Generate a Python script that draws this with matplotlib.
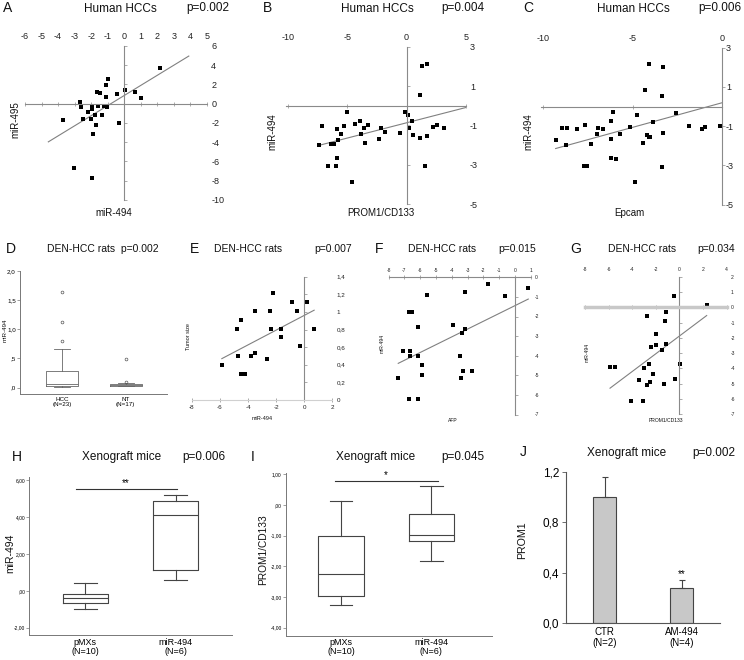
import numpy as np
import matplotlib
matplotlib.use("Agg")
import matplotlib.pyplot as plt

plt.rcParams['font.family'] = ['Liberation Sans', 'DejaVu Sans']
plt.rcParams['axes.unicode_minus'] = False

W, H = 744, 660

# ---------------- data ----------------
# A: Human HCCs, miR-494 (x) vs miR-495 (y)
a_x = [2.14, -1.0, -1.13, -1.62, -1.47, -1.09, -0.46, 0.06, 0.67, 0.99, -2.69, -2.59, -2.22, -1.98,
       -1.96, -1.58, -1.23, -1.05, -1.33, -1.76, -2.02, -1.68, -0.30, -2.51, -3.68, -1.88, -3.05, -1.96]
a_y = [3.70, 2.56, 1.90, 1.25, 1.14, 0.69, 1.0, 1.45, 1.18, 0.62, 0.17, -0.38, -0.87, -0.21,
       -0.55, -0.24, -0.24, -0.38, -1.21, -1.21, -1.59, -2.18, -1.97, -1.63, -1.73, -3.18, -6.64, -7.72]
a_fit = (1.05, 0.86, -4.59, 3.9)   # slope, intercept, x from, x to

# B: Human HCCs, PROM1/CD133 (x) vs miR-494 (y)
b_x = [1.30, 1.72, 1.16, -5.06, -0.17, 0.11, 0.45, -3.90, -4.35, -3.62, -3.28, -2.20, -1.86, -7.12,
       -5.85, -5.31, -5.54, -5.79, -6.38, -6.16, -7.40, -3.81, -3.50, -2.29, -0.56, 0.20, 0.56, 1.10,
       1.75, 2.23, 2.57, 3.16, -5.88, -5.96, -6.61, 1.55, -4.60]
b_y = [2.03, 2.14, 0.53, -0.31, -0.32, -0.46, -0.80, -0.76, -0.93, -1.14, -1.00, -1.14, -1.32, -1.03,
       -1.17, -1.05, -1.42, -1.75, -1.93, -1.97, -2.02, -1.42, -1.88, -1.68, -1.39, -1.14, -1.51, -1.63,
       -1.54, -1.10, -1.00, -1.15, -2.68, -3.05, -3.07, -3.08, -3.86]
b_fit = (0.155, -0.87, -7.4, 5.0)

# C: Human HCCs, Epcam (x) vs miR-494 (y)
c_x = [-4.09, -3.29, -4.30, -3.35, -6.09, -4.77, -2.58, -6.21, -3.83, -5.16, -7.68, -8.09, -8.97,
       -8.65, -6.92, -6.65, -6.99, -6.19, -5.68, -4.17, -4.09, -4.00, -3.29, -4.43, -1.85, -1.08,
       -0.93, -0.09, -9.31, -8.71, -7.31, -7.72, -7.57, -6.19, -5.93, -3.36, -4.88]
c_y = [2.15, 2.03, 0.86, 0.56, -0.29, -0.44, -0.32, -0.76, -0.80, -1.03, -0.92, -1.14, -1.10,
       -1.10, -1.10, -1.14, -1.41, -1.66, -1.41, -1.46, -1.56, -1.53, -1.37, -1.85, -0.97, -1.12,
       -1.05, -0.98, -1.71, -1.95, -1.92, -3.03, -3.02, -2.64, -2.69, -3.07, -3.83]
c_fit = (0.25, 0.19, -9.31, 0.0)

# D: DEN-HCC rats, miR-494 boxplots
d_cats = ['HCC\n(N=23)', 'NT\n(N=17)']
d_stats = [
    dict(med=0.065, q1=0.025, q3=0.29, whislo=0.01, whishi=0.67, fliers=[0.80, 1.12, 1.64]),
    dict(med=0.045, q1=0.035, q3=0.06, whislo=0.02, whishi=0.08, fliers=[0.10, 0.49]),
]

# E: DEN-HCC rats, miR-494 (x) vs tumor size (y)
e_x = [-2.25, -0.87, 0.17, -3.52, -2.46, -0.51, -4.51, -4.81, -2.39, -1.64, 0.70, -1.64, -0.28,
       -4.72, -3.52, -3.77, -2.65, -5.87, -4.48, -4.20]
e_y = [1.21, 1.11, 1.11, 1.01, 1.01, 1.01, 0.91, 0.81, 0.81, 0.81, 0.81, 0.71, 0.61,
       0.50, 0.53, 0.50, 0.46, 0.40, 0.30, 0.30]
e_fit = (0.0837, 0.961, -5.87, 0.70)

# F: DEN-HCC rats, AFP (x) vs miR-494 (y)
f_x = [-1.69, 0.82, -3.16, -0.63, -5.59, -6.69, -6.49, -6.12, -3.94, -3.16, -3.37, -7.11, -6.62,
       -6.62, -6.16, -3.48, -5.87, -7.41, -5.91, -3.27, -2.70, -3.40, -6.69, -6.12]
f_y = [-0.34, -0.56, -0.73, -0.97, -0.92, -1.79, -1.79, -2.55, -2.45, -2.65, -2.84, -3.76, -3.76,
       -4.03, -4.00, -4.00, -4.47, -5.12, -4.98, -4.80, -4.80, -5.15, -6.21, -6.21]
f_fit = (0.3985, -1.445, -7.39, 0.84)

# G: DEN-HCC rats, PROM1/CD133 (x) vs miR-494 (y)
g_x = [2.37, -0.42, -1.10, -2.76, -1.24, -1.95, -2.37, -2.0, -1.15, -1.44, 0.06, -2.59, -2.97,
       -5.87, -5.45, -2.25, -3.41, -2.46, -2.71, -1.32, -0.34, -4.07, -3.05]
g_y = [0.18, 0.74, -0.31, -0.54, -0.92, -1.72, -2.59, -2.48, -2.42, -2.77, -3.70, -3.70, -3.94,
       -3.92, -3.92, -4.38, -4.73, -4.90, -5.08, -5.05, -4.71, -6.14, -6.14]
g_fit = (0.58, -1.886, -5.87, 2.32)

# H: Xenograft mice, miR-494 boxplots
h_cats = ['pMXs\n(N=10)', 'miR-494\n(N=6)']
h_stats = [
    dict(med=-0.41, q1=-0.68, q3=-0.19, whislo=-1.01, whishi=0.43, fliers=[]),
    dict(med=4.12, q1=1.12, q3=4.89, whislo=0.58, whishi=5.21, fliers=[]),
]

# I: Xenograft mice, PROM1/CD133 boxplots
i_cats = ['pMXs\n(N=10)', 'miR-494\n(N=6)']
i_stats = [
    dict(med=-2.25, q1=-2.98, q3=-1.01, whislo=-3.26, whishi=0.14, fliers=[]),
    dict(med=-0.97, q1=-1.18, q3=-0.30, whislo=-1.84, whishi=0.62, fliers=[]),
]

# J: Xenograft mice, PROM1 bars
j_cats = ['CTR\n(N=2)', 'AM-494\n(N=4)']
j_vals = [1.0, 0.28]
j_err = [0.16, 0.06]

AXC = '#8a8a8a'
LINEC = '#808080'

fig = plt.figure(figsize=(W / 100, H / 100), dpi=100)
fig.patch.set_facecolor('white')


def add_ax(x0, y0, x1, y1):
    return fig.add_axes([x0 / W, 1 - y1 / H, (x1 - x0) / W, (y1 - y0) / H])


def txt(x, y, s, fs, ha='center', rot=0, **kw):
    fig.text(x / W, 1 - y / H, s, fontsize=fs, ha=ha, va='center', rotation=rot, color='#111', **kw)


def fmt(v):
    s = ('%g' % v)
    return s.replace('.', ',')


def cross_panel(rect, xlim, ylim, xticks, yticks, xside, tfs, ms, fit, xs, ys,
                hline_w=0.8, hline_c=AXC, ylabels=None):
    ax = add_ax(*rect)
    ax.set_xlim(xlim)
    ax.set_ylim(ylim)
    ax.patch.set_alpha(0)
    ax.spines['top'].set_visible(False)
    ax.spines['right'].set_visible(False)
    ax.spines['left'].set_position(('data', 0))
    ax.spines['bottom'].set_position(('data', 0))
    ax.spines['left'].set_color(AXC)
    ax.spines['left'].set_linewidth(0.8)
    ax.spines['bottom'].set_color(hline_c)
    ax.spines['bottom'].set_linewidth(hline_w)
    ax.set_xticks(xticks)
    ax.set_yticks(yticks)
    ax.set_xticklabels([fmt(v) for v in xticks])
    ax.set_yticklabels(ylabels if ylabels else [fmt(v) for v in yticks])
    ax.tick_params(axis='x', bottom=True, top=False, labelbottom=(xside == 'bottom'),
                   labeltop=(xside == 'top'), direction='inout', length=2.5, width=0.5,
                   color=AXC, labelsize=tfs, labelcolor='#222', pad=2)
    ax.tick_params(axis='y', left=True, right=False, labelleft=False, labelright=True,
                   direction='in', length=2.5, width=0.5, color=AXC, labelsize=tfs,
                   labelcolor='#222', pad=3)
    slope, icpt, x0, x1 = fit
    fx = np.array([x0, x1])
    ax.plot(fx, slope * fx + icpt, color=LINEC, lw=0.8)
    ax.plot(xs, ys, 's', color='k', ms=ms, mew=0, clip_on=False)
    return ax


def box_panel(rect, stats, xlim, ylim, yticks, ylabels, cats, tfs, cfs, col, lw):
    ax = add_ax(*rect)
    ax.bxp(stats, positions=[1, 2], widths=0.5, showfliers=True,
           boxprops=dict(color=col, lw=lw), whiskerprops=dict(color=col, lw=lw),
           capprops=dict(color=col, lw=lw), medianprops=dict(color=col, lw=lw),
           flierprops=dict(marker='o', mfc='none', mec='#555', ms=2, mew=0.5))
    ax.set_xlim(xlim)
    ax.set_ylim(ylim)
    ax.spines['top'].set_visible(False)
    ax.spines['right'].set_visible(False)
    for s in ('left', 'bottom'):
        ax.spines[s].set_color('#777')
        ax.spines[s].set_linewidth(0.7)
    ax.set_yticks(yticks)
    ax.set_yticklabels(ylabels)
    ax.set_xticks([1, 2])
    ax.set_xticklabels(cats, fontsize=cfs, linespacing=1.0)
    ax.tick_params(axis='y', length=2, width=0.5, color='#777', labelsize=tfs, pad=1)
    ax.tick_params(axis='x', length=0, pad=2)
    return ax


# ---------------- row 1 ----------------
cross_panel((25, 46, 207, 200), (-6, 5), (-10, 6), list(range(-6, 6)), list(range(-10, 7, 2)),
            'top', 6.5, 3.4, a_fit, a_x, a_y)
cross_panel((285.9, 46.7, 465.7, 204), (-10.2, 5), (-5, 3), [-10, -5, 0, 5], [-5, -3, -1, 1, 3],
            'top', 6.5, 3.4, b_fit, b_x, b_y)
cross_panel((541, 47.7, 721.7, 204.7), (-10.13, 0), (-5, 3), [-10, -5, 0], [-5, -3, -1, 1, 3],
            'top', 6.5, 3.4, c_fit, c_x, c_y)

for letter, lx, cx, px_, p in [('A', 3, 120, 208, 'p=0.002'), ('B', 263, 377, 463, 'p=0.004'),
                               ('C', 523, 633, 720, 'p=0.006')]:
    txt(lx, 8.5, letter, 10, ha='left')
    txt(cx, 8.5, 'Human HCCs', 8.5)
    txt(px_, 8.5, p, 8.5)
txt(15, 120, 'miR-495', 7, rot=90)
txt(114, 213, 'miR-494', 7)
txt(272, 132, 'miR-494', 7, rot=90)
txt(381, 213, 'PROM1/CD133', 7)
txt(528, 132, 'miR-494', 7, rot=90)
txt(629, 213, 'Epcam', 7)

# ---------------- row 2 ----------------
box_panel((20, 271, 167, 394), d_stats, (0.34, 2.65), (-0.11, 2.0), [0, 0.5, 1.0, 1.5, 2.0],
          [',0', ',5', '1,0', '1,5', '2,0'], d_cats, 4.5, 4.5, '#666', 0.6)
txt(6, 249, 'D', 10, ha='left')
txt(103, 249, 'DEN-HCC rats  p=0.002', 7.5)
txt(5, 330, 'miR-494', 4.5, rot=90)

e_yt = [0, 0.2, 0.4, 0.6, 0.8, 1.0, 1.2, 1.4]
cross_panel((191.9, 276.7, 332.4, 400), (-8, 2), (0, 1.4), [-8, -6, -4, -2, 0, 2], e_yt,
            'bottom', 4.5, 2.3, e_fit, e_x, e_y, hline_c='#d0d0d0')
txt(190, 249, 'E', 10, ha='left')
txt(248, 249, 'DEN-HCC rats', 7.5)
txt(333, 249, 'p=0.007', 7.5)
txt(188, 337, 'Tumor size', 4, rot=90)
txt(262, 418, 'miR-494', 4)

cross_panel((388.6, 277.3, 530.8, 414.5), (-8, 1), (-7, 0), list(range(-8, 2)), list(range(-7, 1)),
            'top', 3.6, 2.3, f_fit, f_x, f_y)
txt(375, 249, 'F', 10, ha='left')
txt(442, 249, 'DEN-HCC rats', 7.5)
txt(517, 249, 'p=0.015', 7.5)
txt(382, 343, 'miR-494', 3.6, rot=90)
txt(453, 420, 'AFP', 3.6)

cross_panel((584.9, 276.7, 726.5, 414.3), (-8, 4), (-7, 2), list(range(-8, 5, 2)), list(range(-7, 3)),
            'top', 3.6, 2.3, g_fit, g_x, g_y, hline_w=2.5, hline_c='#c8c8c8')
txt(570, 249, 'G', 10, ha='left')
txt(642, 249, 'DEN-HCC rats', 7.5)
txt(716, 249, 'p=0.034', 7.5)
txt(587, 352, 'miR-494', 3.6, rot=90)
txt(666, 421, 'PROM1/CD133', 3.6)

# ---------------- row 3 ----------------
ax_h = box_panel((29.3, 476.7, 231.7, 635.3), h_stats, (0.38, 2.62), (-2.41, 6.18), [-2, 0, 2, 4, 6],
                 ['-2,00', ',00', '2,00', '4,00', '6,00'], h_cats, 3.5, 6.5, '#444', 0.8)
ax_h.plot([0.9, 2.01], [5.5, 5.5], color='#333', lw=0.8)
ax_h.text(1.45, 5.55, '**', ha='center', va='bottom', fontsize=7)
txt(12, 457, 'H', 10, ha='left')
txt(122, 457, 'Xenograft mice', 8.5)
txt(204, 457, 'p=0.006', 8.5)
txt(10, 553, 'miR-494', 7.5, rot=90)

ax_i = box_panel((285.7, 472.7, 492, 635.7), i_stats, (0.39, 2.67), (-4.26, 1.05), [-4, -3, -2, -1, 0, 1],
                 ['-4,00', '-3,00', '-2,00', '-1,00', ',00', '1,00'], i_cats, 3.5, 6.5, '#444', 0.8)
ax_i.plot([0.94, 2.07], [0.79, 0.79], color='#333', lw=0.8)
ax_i.text(1.5, 0.82, '*', ha='center', va='bottom', fontsize=7)
txt(251, 457, 'I', 10, ha='left')
txt(376, 457, 'Xenograft mice', 8.5)
txt(463, 457, 'p=0.045', 8.5)
txt(263, 550, 'PROM1/CD133', 7.3, rot=90)

ax_j = add_ax(566, 471.7, 720, 623.3)
ax_j.bar([1, 2], j_vals, width=0.31, color='#c8c8c8', edgecolor='#444', lw=0.8,
         yerr=[[0, 0], j_err], error_kw=dict(ecolor='#444', elinewidth=0.8, capsize=2.5, capthick=0.8))
ax_j.set_xlim(0.5, 2.5)
ax_j.set_ylim(0, 1.2)
ax_j.spines['top'].set_visible(False)
ax_j.spines['right'].set_visible(False)
for s in ('left', 'bottom'):
    ax_j.spines[s].set_color('#555')
    ax_j.spines[s].set_linewidth(0.8)
ax_j.set_yticks([0, 0.4, 0.8, 1.2])
ax_j.set_yticklabels(['0,0', '0,4', '0,8', '1,2'])
ax_j.set_xticks([1, 2])
ax_j.set_xticklabels(j_cats, fontsize=7, linespacing=1.1)
ax_j.tick_params(axis='y', length=3, width=0.6, color='#555', labelsize=8.5, pad=2)
ax_j.tick_params(axis='x', length=0, pad=3)
ax_j.text(2, j_vals[1] + j_err[1] + 0.01, '**', ha='center', va='bottom', fontsize=7)
txt(520, 452, 'J', 10, ha='left')
txt(627, 453, 'Xenograft mice', 8.5)
txt(714, 453, 'p=0.002', 8.5)
txt(522, 540, 'PROM1', 7.7, rot=90)

fig.savefig('out.png', dpi=100)
